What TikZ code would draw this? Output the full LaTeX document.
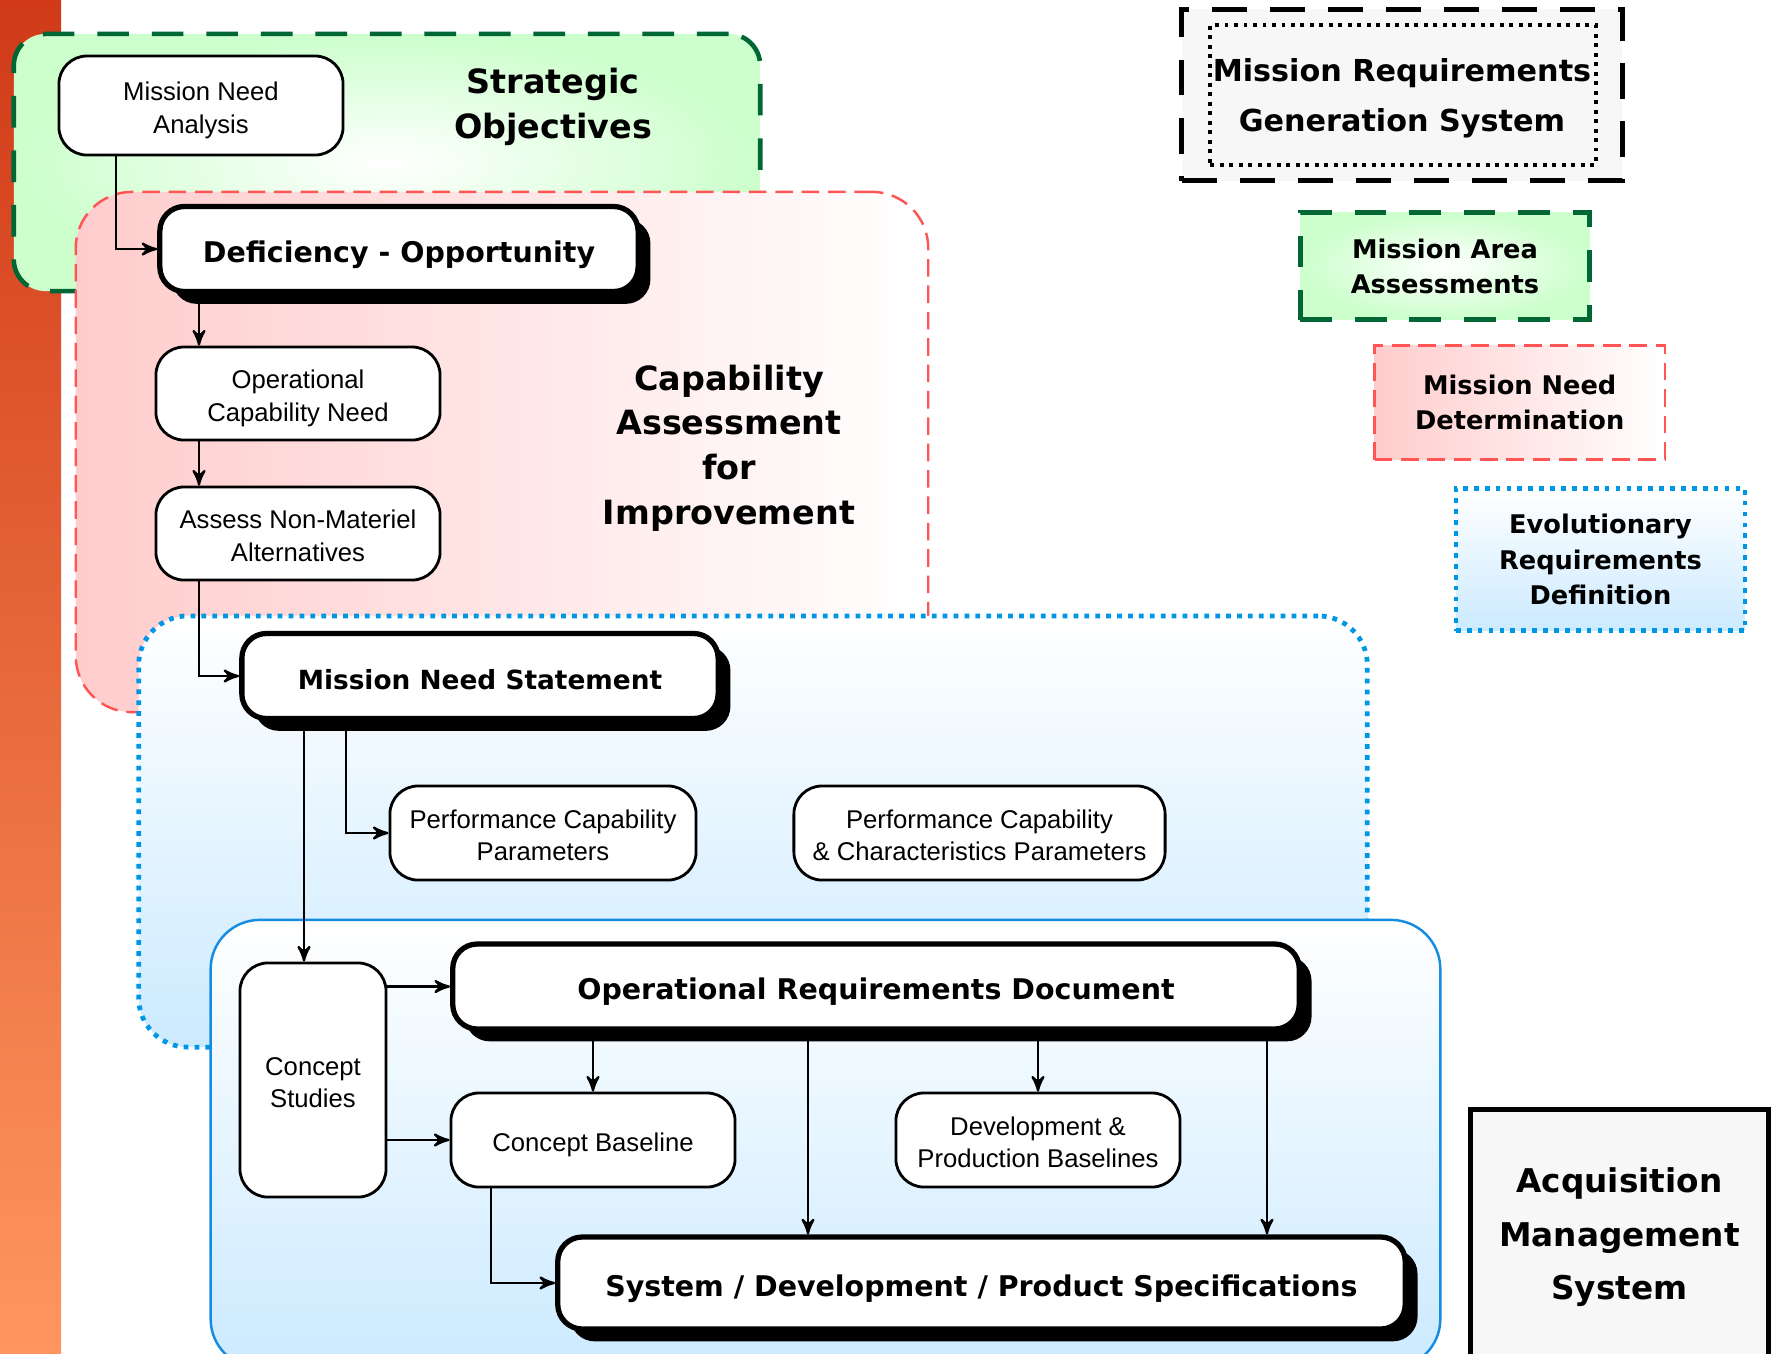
\documentclass[tikz,border=0pt]{standalone}
\usepackage{fontspec}
\setmainfont{Liberation Sans}
\newfontfamily\hdfont{DejaVu Sans}
\usepackage{tikz}
\usetikzlibrary{arrows}
\usetikzlibrary{shadows}
\usetikzlibrary{calc}
\usepackage{color}
\definecolor{bar-top}{RGB}{208,58,24}
\definecolor{bar-bot}{RGB}{255,150,95}
\definecolor{so-line}{RGB}{0,102,51}
\definecolor{so-fill}{RGB}{204,255,204}
\definecolor{ca-line}{RGB}{255,85,85}
\definecolor{ca-fill}{RGB}{255,204,204}
\definecolor{er-line}{RGB}{0,150,230}
\definecolor{am-line}{RGB}{20,140,225}
\definecolor{bl-fill}{RGB}{204,234,255}
\definecolor{lg-fill}{RGB}{247,247,247}

\begin{document}
\begin{tikzpicture}[x=0.01cm, y=-0.01cm]
    \tikzset{ sog/.style={draw=so-line, line width=1.3pt, dash pattern=on 9pt off 6.5pt, inner color=white, outer color=so-fill} }
    \tikzset{ cag/.style={draw=ca-line, line width=0.7pt, dash pattern=on 5pt off 2.5pt, left color=ca-fill, right color=white} }
    \tikzset{ erg/.style={draw=er-line, line width=1.35pt, dash pattern=on 1.35pt off 1.75pt, top color=white, bottom color=bl-fill} }
    \tikzset{ amg/.style={draw=am-line, line width=0.7pt, top color=white, bottom color=bl-fill} }
    \tikzset{ rn/.style={draw=black, line width=0.8pt, rounded corners=8pt, fill=white, align=center, inner sep=0pt, text height=15.8pt, text depth=0pt, font=\fontsize{7.3}{9.2}\selectfont} }
    \tikzset{ hn/.style={draw=black, line width=1.5pt, rounded corners=7pt, fill=white, align=center, inner sep=0pt, text height=7.6pt, text depth=0pt, font=\hdfont\bfseries\fontsize{8.1}{10}\selectfont, drop shadow={shadow xshift=3.5pt, shadow yshift=-3.5pt, fill=black, opacity=1}} }
    \tikzset{ tl/.style={align=center, font=\hdfont\bfseries\fontsize{9.5}{12.7}\selectfont} }
    \tikzset{ lg/.style={align=center, inner sep=0pt, font=\hdfont\bfseries\fontsize{7.3}{10}\selectfont} }
    \tikzset{ arr/.style={-stealth', line width=0.65pt} }

    \useasboundingbox (0,0) rectangle (1771,1353);
    \shade[top color=bar-top, bottom color=bar-bot] (0,0) rectangle (61,1353);

    \node[sog, rounded corners=9pt,  minimum width=7.46cm,  minimum height=2.57cm] (so) at (387,162.5) {};
    \node[cag, rounded corners=16pt, minimum width=8.52cm,  minimum height=5.20cm] (ca) at (502,452) {};
    \node[erg, rounded corners=14pt, minimum width=12.28cm, minimum height=4.31cm] (er) at (753,831.5) {};
    \node[amg, rounded corners=14pt, minimum width=12.29cm, minimum height=4.48cm] (am) at (825.5,1144) {};

    \node[tl] (sot) at (553,107) {Strategic\\Objectives};
    \node[tl] (cat) at (729,448) {Capability\\Assessment\\for\\Improvement};

    \node[rn, minimum width=2.84cm, minimum height=0.99cm] (mna)  at (201,105.5)  {Mission Need\\Analysis};
    \node[hn, minimum width=4.78cm, minimum height=0.85cm] (def)  at (399,249)    {Deficiency - Opportunity};
    \node[rn, minimum width=2.84cm, minimum height=0.93cm] (ocn)  at (298,393.5)  {Operational\\Capability Need};
    \node[rn, minimum width=2.84cm, minimum height=0.93cm] (anm)  at (298,533.5)  {Assess Non-Materiel\\Alternatives};
    \node[hn, minimum width=4.76cm, minimum height=0.85cm, font=\hdfont\bfseries\fontsize{7.5}{10}\selectfont] (mns) at (480,676) {Mission Need Statement};
    \node[rn, minimum width=3.06cm, minimum height=0.94cm] (pcp)  at (543,833)    {Performance Capability\\Parameters};
    \node[rn, minimum width=3.71cm, minimum height=0.94cm] (pccp) at (979.5,833)  {Performance Capability\\\& Characteristics Parameters};
    \node[hn, minimum width=8.46cm, minimum height=0.85cm] (ord)  at (876,986.5)  {Operational Requirements Document};
    \node[rn, minimum width=1.46cm, minimum height=2.34cm] (cs)   at (313,1080)   {Concept\\Studies};
    \node[rn, minimum width=2.84cm, minimum height=0.94cm, text height=6.6pt] (cb) at (593,1140) {Concept Baseline};
    \node[rn, minimum width=2.84cm, minimum height=0.94cm] (dpb)  at (1038,1140)  {Development \&\\Production Baselines};
    \node[hn, minimum width=8.47cm, minimum height=0.92cm] (sdps) at (981.5,1283) {System / Development / Product Specifications};

    \draw[arr] ($(mna.south)+(-85,0)$) |- (def.west);
    \draw[arr] ($(def.south)+(-200,0)$) -- ($(ocn.north)+(-99,0)$);
    \draw[arr] ($(ocn.south)+(-99,0)$) -- ($(anm.north)+(-99,0)$);
    \draw[arr] ($(anm.south)+(-99,0)$) |- (mns.west);
    \draw[arr] ($(mns.south)+(-134,0)$) |- (pcp.west);
    \draw[arr] ($(mns.south)+(-176,0)$) -- ($(cs.north)+(-9,0)$);
    \draw[arr] (cs.east |- ord.west) -- (ord.west);
    \draw[arr] (cs.east |- cb.west) -- (cb.west);
    \draw[arr] (ord.south -| cb.north) -- (cb.north);
    \draw[arr] ($(ord.south)+(-68,0)$) -- ($(sdps.north)+(-173.5,0)$);
    \draw[arr] (ord.south -| dpb.north) -- (dpb.north);
    \draw[arr] ($(ord.south)+(391,0)$) -- ($(sdps.north)+(285.5,0)$);
    \draw[arr] ($(cb.south)+(-102,0)$) |- (sdps.west);

    \node[lg, draw=black, line width=1.4pt, dash pattern=on 10pt off 6.5pt, fill=lg-fill, minimum width=4.40cm, minimum height=1.71cm, text depth=-1.2pt, font=\hdfont\bfseries\fontsize{8.6}{14.4}\selectfont] (mrg) at (1402,95) {Mission Requirements\\Generation System};
    \node[draw=black, line width=1.1pt, dash pattern=on 1.1pt off 1.6pt, minimum width=3.85cm, minimum height=1.40cm] (mrgi) at (1403,95) {};
    \node[lg, sog, minimum width=2.89cm, minimum height=1.07cm] (maa) at (1445,266)     {Mission Area\\Assessments};
    \node[lg, cag, minimum width=2.90cm, minimum height=1.14cm] (mnd) at (1519.7,402.5) {Mission Need\\Determination};
    \node[lg, erg, minimum width=2.89cm, minimum height=1.42cm] (erd) at (1600.5,559.5) {Evolutionary\\Requirements\\Definition};
    \node[lg, draw=black, line width=1.4pt, fill=lg-fill, minimum width=2.97cm, minimum height=2.48cm, text depth=0.2pt, font=\hdfont\bfseries\fontsize{9.3}{15.3}\selectfont] (ams) at (1619.5,1234) {Acquisition\\Management\\System};
\end{tikzpicture}
\end{document}
